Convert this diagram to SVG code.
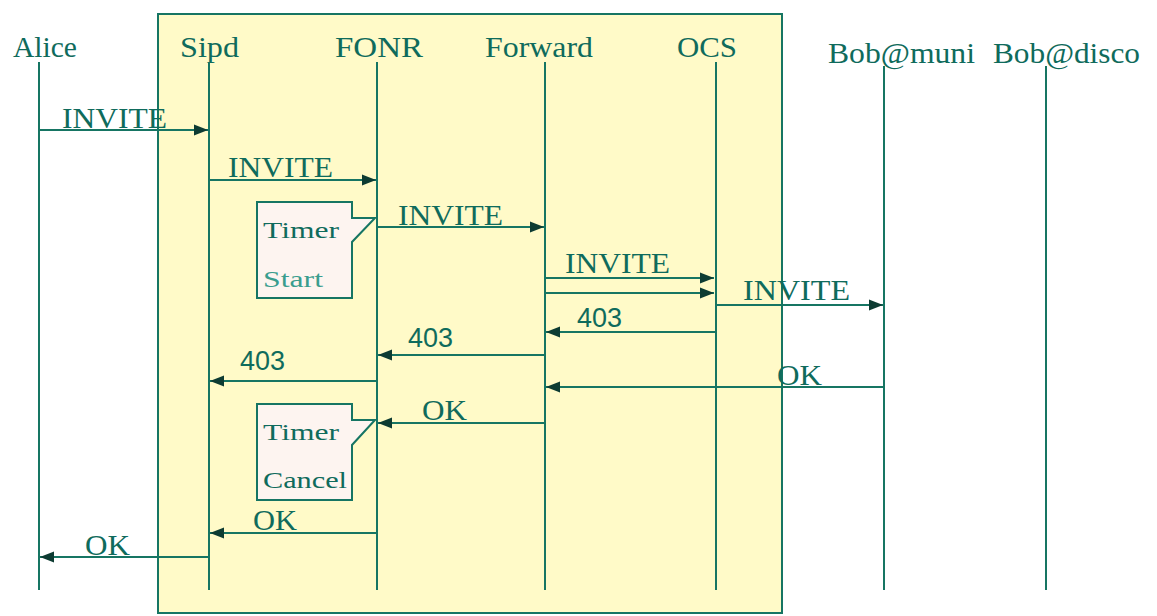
<svg xmlns="http://www.w3.org/2000/svg" width="1157" height="616" viewBox="0 0 1157 616">
<defs>
<style>
.hd{font-family:"Liberation Serif","Times New Roman",serif;font-size:29px;fill:#0f6b5c}
.msg{font-family:"Liberation Serif","Times New Roman",serif;font-size:30px;fill:#0f6b5c}
.num{font-family:"Liberation Sans",Arial,sans-serif;font-size:28px;fill:#0f6b5c}
.note{font-family:"Liberation Serif","Times New Roman",serif;font-size:24px;fill:#0f6b5c}
.life{stroke:#167563;stroke-width:2;fill:none}
.arr{stroke:#167563;stroke-width:2;fill:none;marker-end:url(#ah)}
.callout{fill:#fdf4f0;stroke:#167563;stroke-width:2}
</style>
<marker id="ah" markerUnits="userSpaceOnUse" markerWidth="16" markerHeight="12" refX="14" refY="6" orient="auto">
<path d="M0,0.5 L14,6 L0,11.5 z" fill="#0d3b32"/>
</marker>
</defs>
<rect width="1157" height="616" fill="#ffffff"/>
<rect id="system-box" x="158" y="14" width="624" height="599" fill="#fffac8" stroke="#167563" stroke-width="2"/>

<g id="alice"><text class="hd" x="13" y="57" textLength="64" lengthAdjust="spacingAndGlyphs">Alice</text><line class="life" x1="39" y1="62" x2="39" y2="590"/></g>
<g id="sipd"><text class="hd" x="180" y="57" textLength="59" lengthAdjust="spacingAndGlyphs">Sipd</text><line class="life" x1="209" y1="62" x2="209" y2="590"/></g>
<g id="fonr"><text class="hd" x="335" y="57" textLength="88" lengthAdjust="spacingAndGlyphs">FONR</text><line class="life" x1="377" y1="62" x2="377" y2="590"/></g>
<g id="forward"><text class="hd" x="485" y="57" textLength="108" lengthAdjust="spacingAndGlyphs">Forward</text><line class="life" x1="545" y1="62" x2="545" y2="590"/></g>
<g id="ocs"><text class="hd" x="677" y="57" textLength="60" lengthAdjust="spacingAndGlyphs">OCS</text><line class="life" x1="716" y1="62" x2="716" y2="590"/></g>
<g id="bob-muni"><text class="hd" x="828" y="63" textLength="147" lengthAdjust="spacingAndGlyphs">Bob@muni</text><line class="life" x1="884" y1="66" x2="884" y2="590"/></g>
<g id="bob-disco"><text class="hd" x="993" y="63" textLength="147" lengthAdjust="spacingAndGlyphs">Bob@disco</text><line class="life" x1="1046" y1="66" x2="1046" y2="590"/></g>

<g id="timer-start">
<path class="callout" d="M257,202 H352 V218 H375 L352,242 V298 H257 Z"/>
<text class="note" x="263" y="238" textLength="76" lengthAdjust="spacingAndGlyphs">Timer</text>
<text class="note" x="263" y="287" textLength="60" lengthAdjust="spacingAndGlyphs" style="fill:#3a9d8e">Start</text>
</g>
<g id="timer-cancel">
<path class="callout" d="M257,404 H352 V420 H375 L352,445 V500 H257 Z"/>
<text class="note" x="263" y="440" textLength="76" lengthAdjust="spacingAndGlyphs">Timer</text>
<text class="note" x="263" y="488" textLength="84" lengthAdjust="spacingAndGlyphs">Cancel</text>
</g>

<g id="connectors">
<line class="arr" x1="39" y1="130" x2="208" y2="130"/>
<text class="msg" x="62" y="128" textLength="105" lengthAdjust="spacingAndGlyphs">INVITE</text>
<line class="arr" x1="209" y1="180" x2="376" y2="180"/>
<text class="msg" x="228" y="177" textLength="105" lengthAdjust="spacingAndGlyphs">INVITE</text>
<line class="arr" x1="377" y1="227" x2="544" y2="227"/>
<text class="msg" x="398" y="225" textLength="105" lengthAdjust="spacingAndGlyphs">INVITE</text>
<line class="arr" x1="545" y1="278" x2="714" y2="278"/>
<text class="msg" x="565" y="273" textLength="105" lengthAdjust="spacingAndGlyphs">INVITE</text>
<line class="arr" x1="545" y1="293" x2="714" y2="293"/>
<line class="arr" x1="716" y1="305" x2="883" y2="305"/>
<text class="msg" x="743" y="300" textLength="107" lengthAdjust="spacingAndGlyphs">INVITE</text>
<line class="arr" x1="716" y1="332" x2="546" y2="332"/>
<text class="num" x="577" y="327" textLength="45" lengthAdjust="spacingAndGlyphs">403</text>
<line class="arr" x1="545" y1="355" x2="378" y2="355"/>
<text class="num" x="408" y="347" textLength="45" lengthAdjust="spacingAndGlyphs">403</text>
<line class="arr" x1="377" y1="381" x2="210" y2="381"/>
<text class="num" x="240" y="370" textLength="45" lengthAdjust="spacingAndGlyphs">403</text>
<line class="arr" x1="884" y1="387" x2="546" y2="387"/>
<text class="msg" x="777" y="385" textLength="45" lengthAdjust="spacingAndGlyphs">OK</text>
<line class="arr" x1="545" y1="423" x2="378" y2="423"/>
<text class="msg" x="422" y="420" textLength="45" lengthAdjust="spacingAndGlyphs">OK</text>
<line class="arr" x1="377" y1="533" x2="210" y2="533"/>
<text class="msg" x="253" y="530" textLength="44" lengthAdjust="spacingAndGlyphs">OK</text>
<line class="arr" x1="209" y1="557" x2="40" y2="557"/>
<text class="msg" x="85" y="555" textLength="45" lengthAdjust="spacingAndGlyphs">OK</text>
</g>
</svg>
